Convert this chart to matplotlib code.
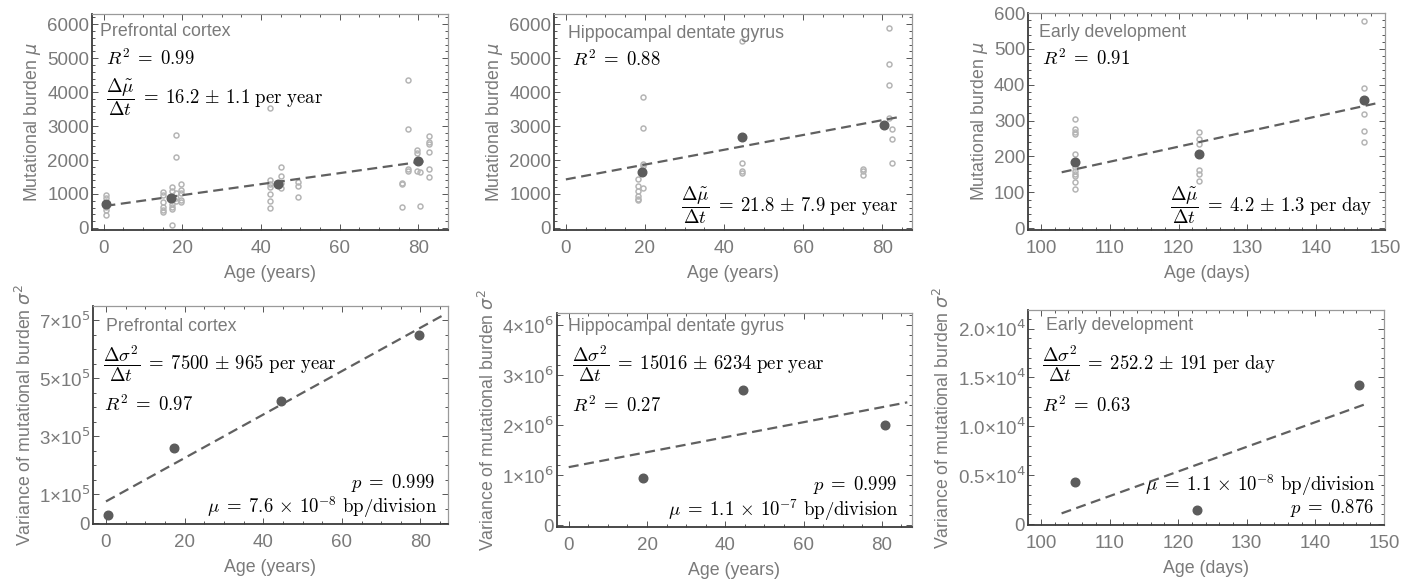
import matplotlib
matplotlib.use('Agg')
import matplotlib.pyplot as plt
from matplotlib.ticker import MultipleLocator, FuncFormatter

plt.rcParams['font.family'] = ['Liberation Sans', 'DejaVu Sans']
plt.rcParams['mathtext.fontset'] = 'cm'

GRAY = '#7a7a7a'
DARK = '#5c5c5c'
LIGHT = '#b5b5b5'

# ---- top row: individual cells (light) and means (dark)
pfc_x = [0.5]*5 + [15.0]*6 + [17.4]*7 + [18.3]*5 + [19.5]*5 + [42.3]*7 + [45.0]*4 + [49.3]*3 \
        + [75.7]*3 + [77.4]*4 + [79.5]*3 + [80.5]*2 + [82.6]*6
pfc_y = [960, 870, 620, 540, 380,
         1070, 970, 770, 610, 530, 470,
         1215, 1090, 820, 700, 630, 550, 100,
         2725, 2100, 1020, 870, 800,
         1280, 1120, 1040, 820, 750,
         3520, 1410, 1290, 1215, 1000, 780, 580,
         1800, 1530, 1330, 1185,
         1360, 1245, 920,
         1330, 1285, 620,
         4350, 2900, 1725, 1675,
         2310, 2195, 1675,
         1640, 660,
         2705, 2540, 2470, 2245, 1725, 1510]
pfc_mean_x = [0.5, 17.2, 44.4, 80.0]
pfc_mean_y = [700, 890, 1280, 1960]

hdg_x = [18.3]*6 + [19.5]*5 + [44.6]*4 + [75.0]*3 + [81.8]*4 + [82.5]*3
hdg_y = [1430, 1230, 1085, 940, 860, 810,
         3870, 2940, 1885, 1820, 1180,
         5510, 1915, 1670, 1630,
         1750, 1670, 1555,
         5900, 4825, 4210, 3250,
         2920, 2630, 1915]
hdg_mean_x = [19.3, 44.6, 80.5]
hdg_mean_y = [1660, 2670, 3040]

ed_x = [105]*11 + [123]*6 + [147]*5
ed_y = [305, 276, 269, 263, 208, 170, 159, 151, 145, 128, 110,
        268, 250, 235, 161, 151, 131,
        577, 392, 318, 271, 241]
ed_mean_x = [105, 123, 147]
ed_mean_y = [185, 207, 358]

# ---- bottom row: variances
var_pfc_x = [0.5, 17.3, 44.4, 79.6]
var_pfc_y = [28000, 259000, 421000, 649000]
var_hdg_x = [19.1, 44.5, 80.7]
var_hdg_y = [0.94e6, 2.70e6, 2.01e6]
var_ed_x = [105, 122.7, 146.4]
var_ed_y = [4260, 1465, 14200]

# fitted lines (intercept, slope, x range)
fit_top = [(643, 16.2, 0.4, 82.0), (1430, 21.8, 0.0, 84.2), (156 - 4.2*103, 4.2, 103.0, 149.3)]
fit_bot = [(75000, 7500, 0.0, 86.0), (1.16e6, 15016, 0.0, 86.5), (1090 - 252.2*103, 252.2, 103.0, 147.5)]

fig = plt.figure(figsize=(14.18, 5.82), dpi=100)
W, H = 1418, 582


def add_ax(l, r, t, b):
    return fig.add_axes([l/W, (H-b)/H, (r-l)/W, (b-t)/H])


def style(ax, xmaj, xmin_n, ymaj, ymin_step):
    for s in ['left', 'bottom']:
        ax.spines[s].set_color('#3c3c3c')
        ax.spines[s].set_linewidth(1.3)
    for s in ['top', 'right']:
        ax.spines[s].set_color('#9a9a9a')
        ax.spines[s].set_linewidth(0.9)
    ax.xaxis.set_major_locator(MultipleLocator(xmaj))
    ax.xaxis.set_minor_locator(MultipleLocator(xmaj / xmin_n))
    if ymaj is not None:
        ax.yaxis.set_major_locator(MultipleLocator(ymaj))
    ax.yaxis.set_minor_locator(MultipleLocator(ymin_step))
    ax.tick_params(which='both', direction='in', top=True, right=True, color='#555555',
                   labelcolor=GRAY, labelsize=13.5, width=0.7)
    ax.tick_params(which='major', length=4.5)
    ax.tick_params(which='minor', length=2.5)
    ax.tick_params(axis='x', pad=7)
    ax.tick_params(axis='y', pad=2)


top_axes = [add_ax(92, 448, 14, 230), add_ax(554, 912, 14, 230), add_ax(1028, 1385, 13, 230)]
bot_axes = [add_ax(93, 448, 306, 524), add_ax(557, 912, 313, 527), add_ax(1028, 1384, 310, 525)]

top_data = [(pfc_x, pfc_y, pfc_mean_x, pfc_mean_y), (hdg_x, hdg_y, hdg_mean_x, hdg_mean_y),
            (ed_x, ed_y, ed_mean_x, ed_mean_y)]
top_xlim = [(-3, 87.5), (-3, 87.5), (98.1, 150.02)]
top_ylim = [(-60, 6300), (-60, 6300), (-5, 600)]
bot_data = [(var_pfc_x, var_pfc_y), (var_hdg_x, var_hdg_y), (var_ed_x, var_ed_y)]
bot_ylim = [(-3000, 750000), (-0.04e6, 4.25e6), (-100, 21900)]
xlabels = ['Age (years)', 'Age (years)', 'Age (days)']
titles = ['Prefrontal cortex', 'Hippocampal dentate gyrus', 'Early development']
LS = 12.8

for i, ax in enumerate(top_axes):
    lx, ly, mx, my = top_data[i]
    ax.plot(lx, ly, 'o', ms=3.6, mfc='none', mec=LIGHT, mew=1.1, zorder=2)
    a, b, x0, x1 = fit_top[i]
    ax.plot([x0, x1], [a + b*x0, a + b*x1], '--', color='#606060', lw=1.6, dashes=(4.5, 2.5), zorder=3)
    ax.plot(mx, my, 'o', ms=6.2, color=DARK, zorder=4)
    ax.set_xlim(*top_xlim[i])
    ax.set_ylim(*top_ylim[i])
    if i < 2:
        style(ax, 20, 4, 1000, 200)
    else:
        style(ax, 10, 5, 100, 20)
    ax.set_xlabel(xlabels[i], color=GRAY, fontsize=LS, labelpad=6)
    yl = ax.set_ylabel(r'Mutational burden $\mu$', color=GRAY, fontsize=LS, labelpad=3)
    yl.set_math_fontfamily('dejavusans')

for i, ax in enumerate(bot_axes):
    x, y = bot_data[i]
    a, b, x0, x1 = fit_bot[i]
    ax.plot([x0, x1], [a + b*x0, a + b*x1], '--', color='#606060', lw=1.6, dashes=(4.5, 2.5), zorder=3)
    ax.plot(x, y, 'o', ms=6.2, color=DARK, zorder=4)
    ax.set_ylim(*bot_ylim[i])
    ax.set_xlabel(xlabels[i], color=GRAY, fontsize=LS, labelpad=6)
    yl = ax.set_ylabel(r'Variance of mutational burden $\sigma^2$', color=GRAY, fontsize=LS, labelpad=3)
    yl.set_math_fontfamily('dejavusans')

ax = bot_axes[0]
ax.set_xlim(-3.3, 87)
style(ax, 20, 4, None, 50000)
ax.set_yticks([0, 1e5, 3e5, 5e5, 7e5])
ax.yaxis.set_major_formatter(FuncFormatter(lambda v, p: '0' if v == 0 else '%d×10$^{5}$' % round(v/1e5)))

ax = bot_axes[1]
ax.set_xlim(-3, 87.7)
style(ax, 20, 4, 1e6, 2e5)
ax.yaxis.set_major_formatter(FuncFormatter(lambda v, p: '0' if v == 0 else '%d×10$^{6}$' % round(v/1e6)))

ax = bot_axes[2]
ax.set_xlim(98.1, 150.02)
style(ax, 10, 5, 5000, 1000)
ax.yaxis.set_major_formatter(FuncFormatter(lambda v, p: '0' if v == 0 else '%.1f×10$^{4}$' % (v/1e4)))

for ax in bot_axes:
    ax.tick_params(axis='y', labelsize=13.5)
    for lab in ax.get_yticklabels():
        lab.set_math_fontfamily('dejavusans')

# ---- annotations
TS = 13.5


def put(ax, x, y, s, ha='left', **kw):
    ax.text(x, y, s, transform=ax.transAxes, ha=ha, va='center', **kw)


for ax, t, pos in zip(top_axes + bot_axes, titles + titles,
                      [(0.022, 0.917), (0.039, 0.912), (0.031, 0.912),
                       (0.037, 0.908), (0.031, 0.939), (0.05, 0.926)]):
    put(ax, pos[0], pos[1], t, color=GRAY, fontsize=12.8)

EQ = r'\;=\;'
PM = r'\,\pm\,'
frac_mu = r'$\dfrac{\Delta\tilde{\mu}}{\Delta t}' + EQ + '%s$'
frac_s = r'$\dfrac{\Delta\sigma^2}{\Delta t}' + EQ + '%s$'


def rate(a, b, unit):
    return a + PM + b + r'\ \mathrm{per\ ' + unit + '}'


def r2(v):
    return '$R^2' + EQ + v + '$'


def pval(v):
    return '$p' + EQ + v + '$'


def mu(m, e):
    return r'$\mu' + EQ + m + r'\,\times\,10^{-' + e + r'}\ \mathrm{bp/division}$'


put(top_axes[0], 0.04, 0.796, r2('0.99'), fontsize=TS)
put(top_axes[0], 0.04, 0.616, frac_mu % rate('16.2', '1.1', 'year'), fontsize=TS)
put(top_axes[1], 0.05, 0.79, r2('0.88'), fontsize=TS)
put(top_axes[1], 0.961, 0.116, frac_mu % rate('21.8', '7.9', 'year'), ha='right', fontsize=TS)
put(top_axes[2], 0.039, 0.79, r2('0.91'), fontsize=TS)
put(top_axes[2], 0.966, 0.115, frac_mu % rate('4.2', '1.3', 'day'), ha='right', fontsize=TS)

put(bot_axes[0], 0.028, 0.734, frac_s % rate('7500', '965', 'year'), fontsize=TS)
put(bot_axes[0], 0.031, 0.546, r2('0.97'), fontsize=TS)
put(bot_axes[0], 0.963, 0.19, pval('0.999'), ha='right', fontsize=TS)
put(bot_axes[0], 0.969, 0.076, mu('7.6', '8'), ha='right', fontsize=TS)

put(bot_axes[1], 0.042, 0.762, frac_s % rate('15016', '6234', 'year'), fontsize=TS)
put(bot_axes[1], 0.042, 0.57, r2('0.27'), fontsize=TS)
put(bot_axes[1], 0.958, 0.198, pval('0.999'), ha='right', fontsize=TS)
put(bot_axes[1], 0.961, 0.078, mu('1.1', '7'), ha='right', fontsize=TS)

put(bot_axes[2], 0.039, 0.749, frac_s % rate('252.2', '191', 'day'), fontsize=TS)
put(bot_axes[2], 0.039, 0.558, r2('0.63'), fontsize=TS)
put(bot_axes[2], 0.975, 0.186, mu('1.1', '8'), ha='right', fontsize=TS)
put(bot_axes[2], 0.972, 0.078, pval('0.876'), ha='right', fontsize=TS)

fig.savefig('out.png', dpi=100)
